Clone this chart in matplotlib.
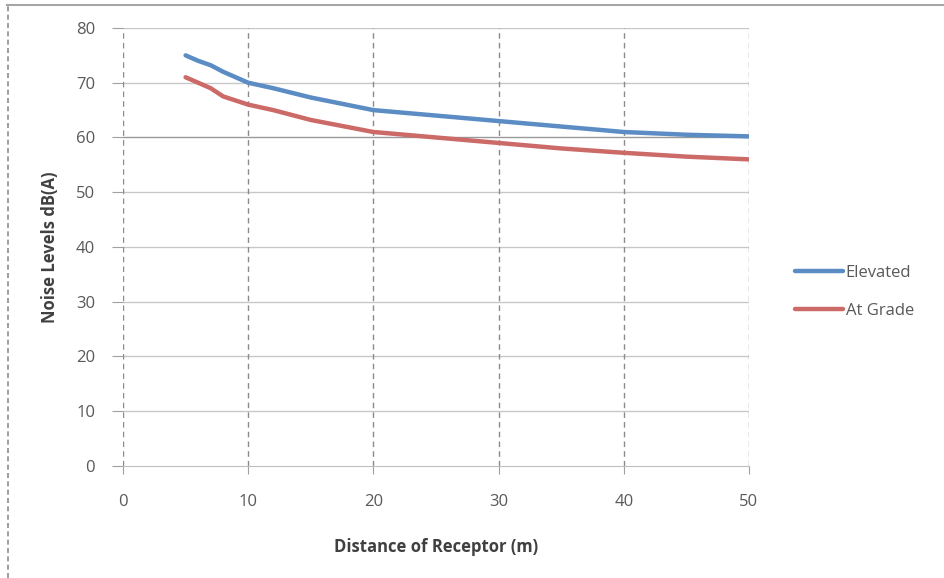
import matplotlib.pyplot as plt
from matplotlib.lines import Line2D

plt.rcParams['font.family'] = ['Open Sans', 'DejaVu Sans']

distance = [5, 6, 7, 8, 10, 12, 15, 20, 25, 30, 35, 40, 45, 50]
elevated = [75.0, 74.0, 73.2, 72.0, 70.0, 69.0, 67.3, 65.0, 64.0, 63.0, 62.0, 61.0, 60.5, 60.2]
at_grade = [71.0, 70.0, 69.0, 67.5, 66.0, 65.0, 63.2, 61.0, 60.0, 59.0, 58.0, 57.2, 56.5, 56.0]

x_ticks = [0, 10, 20, 30, 40, 50]
y_ticks = [0, 10, 20, 30, 40, 50, 60, 70, 80]

fig = plt.figure(figsize=(9.44, 5.78), dpi=100)
ax = fig.add_axes([0.1303, 0.1938, 0.6631, 0.7578])

# horizontal grid (solid), vertical grid (dashed)
for y in y_ticks[1:]:
    ax.axhline(y, color='#999999' if y == 60 else '#c8c8c8', lw=1.0, zorder=1)
for x in x_ticks:
    ax.axvline(x, color='#8a8a8a', lw=1.0, ls=(0, (4, 3)), zorder=1)

ax.plot(distance, elevated, color='#5b8cc4', lw=3.2, label='Elevated', zorder=3, solid_capstyle='round')
ax.plot(distance, at_grade, color='#cc6a68', lw=3.2, label='At Grade', zorder=3, solid_capstyle='round')

ax.set_xlim(0, 50)
ax.set_ylim(0, 80)
ax.set_xticks(x_ticks)
ax.set_yticks(y_ticks)

for s in ['top', 'right', 'left']:
    ax.spines[s].set_visible(False)
ax.spines['bottom'].set_color('#bfbfbf')
ax.tick_params(axis='x', length=6, color='#a0a0a0', labelsize=12, labelcolor='#595959', pad=14, direction='out')
ax.tick_params(axis='y', length=8, color='#a0a0a0', labelsize=12, labelcolor='#595959', pad=12, direction='out')

ax.set_xlabel('Distance of Receptor (m)', fontsize=12, fontweight='bold', color='#404040', labelpad=20)
ax.set_ylabel('Noise Levels dB(A)', fontsize=12, fontweight='bold', color='#404040', labelpad=12)

leg = fig.legend(loc='center left', bbox_to_anchor=(0.826, 0.495), frameon=False,
                 fontsize=12, handlelength=2.9, handletextpad=0.15, labelspacing=1.35)
for t in leg.get_texts():
    t.set_color('#595959')

# outer frame pieces
fig.add_artist(Line2D([0.007, 1.0], [0.991, 0.991], transform=fig.transFigure, color='#a6a6a6', lw=1.5))
fig.add_artist(Line2D([0.008, 0.008], [0.0, 0.991], transform=fig.transFigure, color='#8c8c8c', lw=1.2, ls=(0, (3, 2))))

fig.savefig('out.png', dpi=100)
